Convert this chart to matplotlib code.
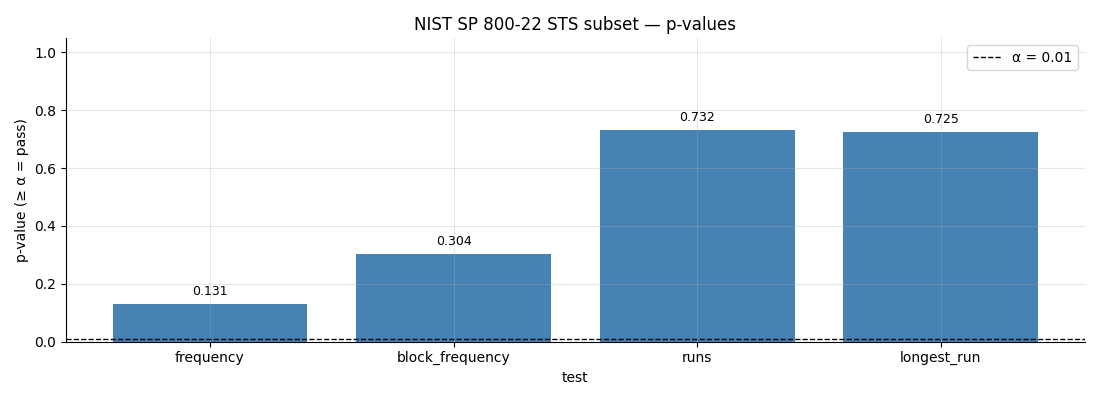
import matplotlib
matplotlib.use("Agg")
import matplotlib.pyplot as plt

tests = ["frequency", "block_frequency", "runs", "longest_run"]
pvalues = [0.131, 0.304, 0.732, 0.725]
alpha = 0.01

fig, ax = plt.subplots(figsize=(11, 4), dpi=100)
bars = ax.bar(tests, pvalues, color="steelblue", width=0.8)
for b, v in zip(bars, pvalues):
    ax.text(b.get_x() + b.get_width() / 2, v + 0.02, f"{v:.3f}", ha="center", va="bottom", fontsize=9)
ax.axhline(alpha, color="black", linestyle="--", linewidth=1, label=f"α = {alpha}")
ax.set_ylim(0, 1.05)
ax.set_xlabel("test")
ax.set_ylabel("p-value (≥ α = pass)")
ax.set_title("NIST SP 800-22 STS subset — p-values")
ax.grid(alpha=0.3)
ax.spines["top"].set_visible(False)
ax.spines["right"].set_visible(False)
ax.legend(loc="upper right")
fig.subplots_adjust(left=0.0602, right=0.986, top=0.905, bottom=0.146)
fig.savefig("out.png")
